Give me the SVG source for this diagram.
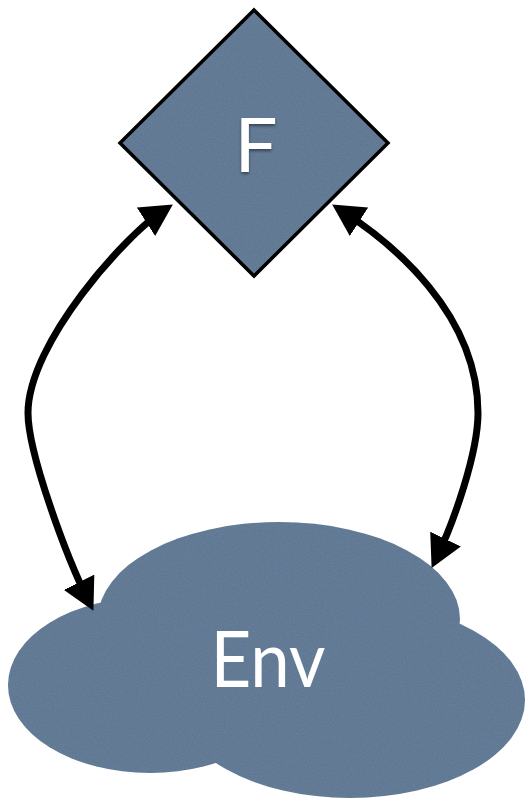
<svg xmlns="http://www.w3.org/2000/svg" width="529" height="801" viewBox="0 0 529 801">
  <style>
    .shape { fill: #58728f; }
    .outline { stroke: #000; stroke-width: 3.5; stroke-linejoin: miter; }
    .label { fill: #fff; font-family: "Lato", "Open Sans", "Liberation Sans", sans-serif; font-weight: 400; }
    .link { fill: none; stroke: #000; stroke-width: 7; marker-start: url(#head); marker-end: url(#head); }
  </style>
  <defs>
    <marker id="head" viewBox="0 0 32 34" markerUnits="userSpaceOnUse" markerWidth="32" markerHeight="34" refX="21" refY="17" orient="auto-start-reverse">
      <path d="M0,0 L32,17 L0,34 z" fill="#000"/>
    </marker>
    <!-- canvas-like grain over the blue fills -->
    <filter id="grain" x="0" y="0" width="100%" height="100%">
      <feTurbulence type="fractalNoise" baseFrequency="0.9" numOctaves="2" seed="3" result="noise"/>
      <feColorMatrix in="noise" type="matrix" values="0 0 0 0 0.55  0 0 0 0 0.65  0 0 0 0 0.75  0 0 0 0.12 0" result="tint"/>
      <feComposite in="tint" in2="SourceGraphic" operator="in" result="clip"/>
      <feMerge><feMergeNode in="SourceGraphic"/><feMergeNode in="clip"/></feMerge>
    </filter>
    <filter id="shadow" x="-30%" y="-30%" width="160%" height="160%">
      <feDropShadow dx="0" dy="2" stdDeviation="1.5" flood-color="#000" flood-opacity="0.45"/>
    </filter>
  </defs>

  <!-- F: decision diamond -->
  <g id="node-f">
    <polygon class="shape" filter="url(#grain)" points="254,10 388,143 254,276 120,143"/>
    <polygon class="outline" fill="none" points="254,10 388,143 254,276 120,143"/>
    <text class="label" x="256" y="172" font-size="76" text-anchor="middle" filter="url(#shadow)">F</text>
  </g>

  <!-- Env: cloud -->
  <g id="node-env">
    <g class="shape" filter="url(#grain)">
      <ellipse cx="279" cy="619" rx="181" ry="97"/>
      <ellipse cx="150" cy="685" rx="142" ry="88"/>
      <ellipse cx="350" cy="700" rx="175" ry="98"/>
    </g>
    <text class="label" x="268" y="687" font-size="78" text-anchor="middle" textLength="115" lengthAdjust="spacingAndGlyphs">Env</text>
  </g>

  <!-- two-way links between F and Env -->
  <g id="connectors">
    <path class="link" d="M163.6,210.4 C125.8,234.7 28,343 28,413 C28,453 66.1,556.3 88.5,601"/>
    <path class="link" d="M341.4,210.4 C391.8,242.8 478,313 478,413 C478,453 453.8,522 436.4,558"/>
  </g>
</svg>
